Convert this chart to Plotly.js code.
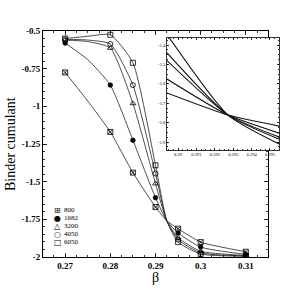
<!DOCTYPE html>
<html><head><meta charset="utf-8">
<script src="https://cdn.plot.ly/plotly-3.0.1.min.js"></script>
<style>html,body{margin:0;padding:0;background:#fff}#plot{width:289px;height:289px}</style>
</head><body><div id="plot"></div>
<script>
// ---- data ----
const seriesNames = ["800", "1682", "3200", "4050", "6050"];
const beta = [0.27, 0.28, 0.285, 0.29, 0.295, 0.30, 0.31];
const u800  = [-0.775, -1.17, -1.44, -1.668, -1.812, -1.901, -1.965];
const u1682 = [-0.58, -0.859, -1.225, -1.606, -1.841, -1.934, -1.983];
const u3200 = [-0.56, -0.613, -0.981, -1.513, -1.872, -1.962, -1.990];
const u4050 = [-0.555, -0.586, -0.859, -1.446, -1.885, -1.972, -1.993];
const u6050 = [-0.55, -0.525, -0.711, -1.391, -1.901, -1.980, -1.995];
// fitted curves
const betaFit = [0.27, 0.275, 0.28, 0.285, 0.29, 0.2925, 0.295, 0.30, 0.31];
const f800  = [-0.775, -0.965, -1.17, -1.44, -1.668, -1.76, -1.812, -1.901, -1.965];
const f1682 = [-0.58, -0.69, -0.859, -1.225, -1.606, -1.76, -1.841, -1.934, -1.983];
const f3200 = [-0.56, -0.57, -0.613, -0.981, -1.513, -1.76, -1.872, -1.962, -1.990];
const f4050 = [-0.555, -0.56, -0.586, -0.859, -1.446, -1.76, -1.885, -1.972, -1.993];
const f6050 = [-0.55, -0.535, -0.525, -0.711, -1.391, -1.76, -1.901, -1.980, -1.995];
// inset (zoom around crossing)
const betaIn = [0.2894, 0.29272, 0.2955];
const i800  = [-1.647, -1.761, -1.818];
const i1682 = [-1.575, -1.761, -1.854];
const i3200 = [-1.48, -1.761, -1.874];
const i4050 = [-1.44, -1.761, -1.885];
const i6050 = [-1.345, -1.761, -1.910];
// tick labels
const yTickVals = [-0.5, -0.75, -1, -1.25, -1.5, -1.75, -2];
const yTickText = ["-0.5", "-0.75", "-1", "-1.25", "-1.5", "-1.75", "-2"];
const xTickVals = [0.27, 0.28, 0.29, 0.30, 0.31];
const xTickText = ["0.27", "0.28", "0.29", "0.3", "0.31"];
const inXTickVals = [0.29, 0.291, 0.292, 0.293, 0.294, 0.295];
const inXTickText = ["0.29", "0.291", "0.292", "0.293", "0.294", "0.295"];
const inYTickVals = [-1.4, -1.5, -1.6, -1.7, -1.8, -1.9];
const inYTickText = ["-1.4", "-1.5", "-1.6", "-1.7", "-1.8", "-1.9"];

// ---- styling ----
const markerVals = [u800, u1682, u3200, u4050, u6050];
const fitVals = [f800, f1682, f3200, f4050, f6050];
const insetVals = [i800, i1682, i3200, i4050, i6050];
const symbols = ["square-x-open", "circle", "triangle-up-open", "circle-open", "square-open"];
const legendGlyphs = ["\u229E", "\u25CF", "\u25B3", "\u25CB", "\u25A1"];
const serif = "Liberation Serif, Times New Roman, serif";

const W = 289, H = 289;
const M = {l: 43, r: 10, t: 31, b: 32};
const paperW = W - M.l - M.r, paperH = H - M.t - M.b;
const px2x = p => (p - M.l) / paperW;
const px2y = p => (H - M.b - p) / paperH;

const traces = [];
fitVals.forEach((v, i) => {
  traces.push({x: betaFit, y: v, mode: 'lines', line: {color: '#222', width: 0.8, shape: 'spline', smoothing: 0.55},
    xaxis: 'x', yaxis: 'y', showlegend: false, hoverinfo: 'skip'});
});
markerVals.forEach((v, i) => {
  traces.push({x: beta, y: v, mode: 'markers', name: seriesNames[i],
    marker: {symbol: symbols[i], size: i === 1 ? 4.5 : 5, color: '#000', line: {color: '#000', width: 0.8}},
    xaxis: 'x', yaxis: 'y', showlegend: false});
});
insetVals.forEach((v, i) => {
  traces.push({x: betaIn, y: v, mode: 'lines', line: {color: '#111', width: 1.1, shape: 'spline', smoothing: 0.6},
    xaxis: 'x2', yaxis: 'y2', showlegend: false, hoverinfo: 'skip'});
});

const annotations = [
  {text: 'Binder cumulant', textangle: -90, xref: 'paper', yref: 'paper', x: px2x(10), y: px2y(144),
   xanchor: 'center', yanchor: 'middle', showarrow: false, font: {family: serif, size: 14, color: '#000'}},
  {text: '\u03B2', xref: 'paper', yref: 'paper', x: px2x(155.5), y: px2y(277),
   xanchor: 'center', yanchor: 'middle', showarrow: false, font: {family: serif, size: 14, color: '#000'}}
];
const legTop = 210, legStep = 8;
seriesNames.forEach((n, i) => {
  annotations.push({text: legendGlyphs[i], xref: 'paper', yref: 'paper', x: px2x(57.5), y: px2y(legTop + i * legStep),
    xanchor: 'center', yanchor: 'middle', showarrow: false, font: {family: 'DejaVu Sans', size: 8, color: '#000'}});
  annotations.push({text: n, xref: 'paper', yref: 'paper', x: px2x(62), y: px2y(legTop + i * legStep),
    xanchor: 'left', yanchor: 'middle', showarrow: false, font: {family: serif, size: 7, color: '#000'}});
});

const axBase = {showgrid: false, zeroline: false, showline: true, linecolor: '#000', linewidth: 1,
  mirror: 'ticks', ticks: 'inside', tickcolor: '#000', tickwidth: 0.8};

const layout = {
  width: W, height: H, margin: M, paper_bgcolor: '#fff', plot_bgcolor: '#fff', showlegend: false,
  xaxis: Object.assign({}, axBase, {domain: [0, 225 / paperW], range: [0.2651, 0.3149], tickmode: 'array',
    tickvals: xTickVals, ticktext: xTickText, ticklen: 4,
    minor: {dtick: 0.0025, ticklen: 2, ticks: 'inside', tickcolor: '#000', showgrid: false},
    tickfont: {family: serif, size: 9, color: '#000', weight: 'bold'}}),
  yaxis: Object.assign({}, axBase, {domain: [0, 1], range: [-2, -0.5], tickmode: 'array',
    tickvals: yTickVals, ticktext: yTickText, ticklen: 4,
    minor: {dtick: 0.05, ticklen: 2, ticks: 'inside', tickcolor: '#000', showgrid: false},
    tickfont: {family: serif, size: 9, color: '#000', weight: 'bold'}}),
  xaxis2: Object.assign({}, axBase, {anchor: 'y2', domain: [px2x(167), 1], range: [0.2894, 0.29549], tickmode: 'array',
    tickvals: inXTickVals, ticktext: inXTickText, ticklen: 2, linewidth: 0.8,
    minor: {dtick: 0.00025, ticklen: 1, ticks: 'inside', tickcolor: '#000', showgrid: false},
    tickfont: {family: serif, size: 4.5, color: '#000'}}),
  yaxis2: Object.assign({}, axBase, {anchor: 'x2', domain: [px2y(150), px2y(37.7)], range: [-1.941, -1.362], tickmode: 'array',
    tickvals: inYTickVals, ticktext: inYTickText, ticklen: 2, linewidth: 0.8,
    minor: {dtick: 0.025, ticklen: 1, ticks: 'inside', tickcolor: '#000', showgrid: false},
    tickfont: {family: serif, size: 4.5, color: '#000'}}),
  annotations: annotations
};

Plotly.newPlot('plot', traces, layout, {staticPlot: true, displayModeBar: false});
</script></body></html>
